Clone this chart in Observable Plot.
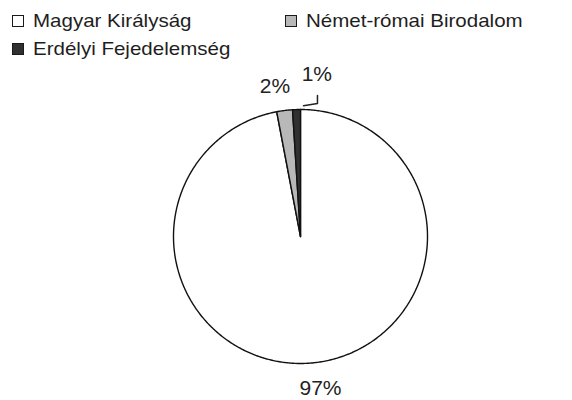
<!DOCTYPE html>
<html><head><meta charset="utf-8">
<script src="https://cdn.jsdelivr.net/npm/d3@7"></script>
<script src="https://cdn.jsdelivr.net/npm/@observablehq/plot@0.6"></script>
<style>
body{margin:0;background:#fff;}
#wrap{position:relative;width:572px;height:400px;font-family:"Liberation Sans",Arial,sans-serif;color:#222;overflow:hidden;}
.leg{position:absolute;display:flex;align-items:center;white-space:nowrap;height:20px;}
.sw{width:10px;height:10px;border:1.5px solid #1a1a1a;box-sizing:content-box;}
.lt{font-size:19px;transform:scaleX(1.08);transform-origin:left center;margin-left:9px;color:#1e1e1e;}
#chart{position:absolute;left:0;top:0;}
</style></head><body><div id="wrap"><div id="chart"></div></div>
<script>
const categories = ["Magyar Királyság", "Német-római Birodalom", "Erdélyi Fejedelemség"];
const shares = [97, 2, 1];
const labels = ["97%", "2%", "1%"];
const colors = ["#ffffff", "#b8b8b8", "#303030"];

const data = categories.map((c, i) => ({cat: c, share: shares[i], label: labels[i]}));
const arcs = d3.pie().sort(null).value(d => d.share)(data);

// slice outlines in unit-circle coordinates
const rows = [];
arcs.forEach((a, i) => {
  rows.push({cat: a.data.cat, x: 0, y: 0, k: i});
  const n = Math.max(4, Math.ceil((a.endAngle - a.startAngle) / 0.01));
  for (let j = 0; j <= n; j++) {
    const t = a.startAngle + (a.endAngle - a.startAngle) * j / n;
    rows.push({cat: a.data.cat, x: Math.sin(t), y: Math.cos(t), k: i});
  }
});

const mid = a => (a.startAngle + a.endAngle) / 2;
const labelR = 1.17;
const lab = arcs.map(a => ({label: a.data.label, x: Math.sin(mid(a)) * labelR, y: Math.cos(mid(a)) * labelR}));

// leader for the smallest slice
const small = arcs[2];
const sx = Math.sin(mid(small)), sy = Math.cos(mid(small));
const leader = [
  {x: sx + 0.055, y: sy + 0.03},
  {x: sx + 0.165, y: sy + 0.047},
  {x: sx + 0.165, y: sy + 0.11}
];

const cx = 300, cy = 236, R = 127, W = 572, H = 400;
const plot = Plot.plot({
  width: W, height: H,
  margin: 0,
  x: {domain: [-cx / R, (W - cx) / R], axis: null},
  y: {domain: [-(H - cy) / R, cy / R], axis: null},
  color: {domain: categories, range: colors},
  style: {background: "transparent", fontFamily: "Liberation Sans, Arial, sans-serif"},
  marks: [
    Plot.line(rows, {x: "x", y: "y", z: "k", fill: "cat", stroke: "#111", strokeWidth: 1.4, curve: "linear-closed", strokeLinejoin: "round"}),
    Plot.line(leader, {x: "x", y: "y", stroke: "#222", strokeWidth: 1.5}),
    Plot.text(lab.filter(d => d.label === "97%"), {x: "x", y: "y", text: "label", fontSize: 21, fill: "#222", dx: 6, dy: 4}),
    Plot.text(lab.filter(d => d.label === "2%"), {x: "x", y: "y", text: "label", fontSize: 21, fill: "#222", dx: -7, dy: -3}),
    Plot.text(lab.filter(d => d.label === "1%"), {x: "x", y: "y", text: "label", fontSize: 21, fill: "#222", dx: 21, dy: -14})
  ]
});
document.getElementById("chart").appendChild(plot);

// legend
const wrap = document.getElementById("wrap");
const legPos = [[12, 11], [285, 11], [12, 39]];
categories.forEach((c, i) => {
  const d = document.createElement("div");
  d.className = "leg";
  d.style.left = legPos[i][0] + "px";
  d.style.top = legPos[i][1] + "px";
  const s = document.createElement("div");
  s.className = "sw";
  s.style.background = colors[i];
  const t = document.createElement("span");
  t.className = "lt";
  t.textContent = c;
  d.appendChild(s); d.appendChild(t);
  wrap.appendChild(d);
});
</script></body></html>
